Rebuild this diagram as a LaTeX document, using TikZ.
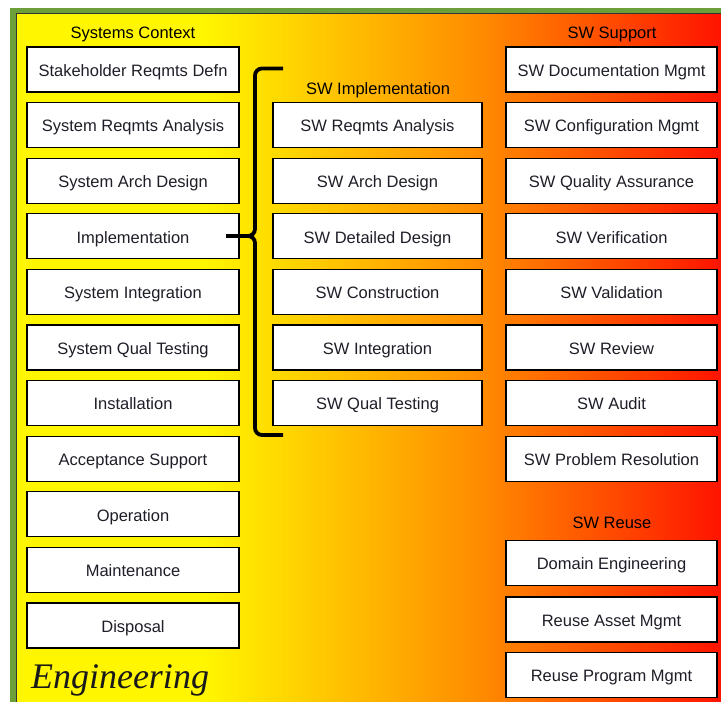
\documentclass[tikz,border=0pt]{standalone}
\usepackage{fontspec}
\setmainfont{Liberation Sans}
\newfontfamily\engfont{Liberation Serif}
\definecolor{framegreen}{RGB}{108,158,58}
\definecolor{bgyellow}{RGB}{255,246,0}
\definecolor{bgorange}{RGB}{255,135,0}
\definecolor{bgred}{RGB}{255,10,0}
\definecolor{labeltext}{RGB}{30,30,40}
\begin{document}
\begin{tikzpicture}[x=1pt,y=-1pt,
  box/.style={draw=black, line width=1.3pt, fill=white, inner sep=0pt,
    minimum height=45pt, text height=13.5pt, text depth=0pt,
    text=labeltext, font=\fontsize{16.5}{18}\selectfont},
  lbox/.style={box, minimum width=212pt},
  mbox/.style={box, minimum width=209pt},
  rbox/.style={box, minimum width=211pt},
  grouptitle/.style={font=\fontsize{16.5}{18}\selectfont, inner sep=0pt,
    text height=13.5pt, text depth=0pt},
  bracket/.style={line width=3.8pt, rounded corners=7pt}]
\useasboundingbox (0,0) rectangle (721,702);
% frame and background
\fill[white] (0,0) rectangle (721,702);
\fill[framegreen] (10,8) rectangle (740,720);
\fill[bgyellow] (16,13) rectangle (205,720);
\shade[left color=bgyellow, right color=bgorange] (204,13) rectangle (491,720);
\shade[left color=bgorange, right color=bgred] (490,13) rectangle (740,720);
\draw[line width=0.8pt, black!80] (16.4,720) -- (16.4,13.4) -- (740,13.4);

% group titles
\node[grouptitle] (tctx) at (133,32) {Systems Context};
\node[grouptitle] (timpl) at (378,87.5) {SW Implementation};
\node[grouptitle] (tsup) at (612,32) {SW Support};
\node[grouptitle] (treuse) at (612,521.5) {SW Reuse};

% systems context column
\foreach \name/\txt [count=\i] in {
  l1/Stakeholder Reqmts Defn, l2/System Reqmts Analysis, l3/System Arch Design,
  l4/Implementation, l5/System Integration, l6/System Qual Testing,
  l7/Installation, l8/Acceptance Support, l9/Operation, l10/Maintenance,
  l11/Disposal}
  \node[lbox] (\name) at (133,{69.5+55.6*(\i-1)}) {\txt};

% SW implementation column
\foreach \name/\txt [count=\i] in {
  m1/SW Reqmts Analysis, m2/SW Arch Design, m3/SW Detailed Design,
  m4/SW Construction, m5/SW Integration, m6/SW Qual Testing}
  \node[mbox] (\name) at (377.5,{125.1+55.6*(\i-1)}) {\txt};

% SW support column
\foreach \name/\txt [count=\i] in {
  r1/SW Documentation Mgmt, r2/SW Configuration Mgmt, r3/SW Quality Assurance,
  r4/SW Verification, r5/SW Validation, r6/SW Review, r7/SW Audit,
  r8/SW Problem Resolution}
  \node[rbox] (\name) at (611.5,{69.5+55.6*(\i-1)}) {\txt};

% SW reuse group
\node[rbox] (u1) at (611.5,563) {Domain Engineering};
\node[rbox] (u2) at (611.5,619.5) {Reuse Asset Mgmt};
\node[rbox] (u3) at (611.5,675) {Reuse Program Mgmt};

% bracket linking Implementation to the SW implementation processes
\coordinate (btop) at (283,68.5);
\coordinate (bbot) at (283,435);
\coordinate (btip) at (226,236);
\draw[bracket] (btop) -- (255,68.5) -- (255,236) -- (btip);
\draw[bracket] (btip) -- (255,236) -- (255,435) -- (bbot);

% area label
\node[font=\engfont\itshape\fontsize{36}{40}\selectfont, inner sep=0pt, text=black!90] (eng) at (120,680) {Engineering};
\end{tikzpicture}
\end{document}
